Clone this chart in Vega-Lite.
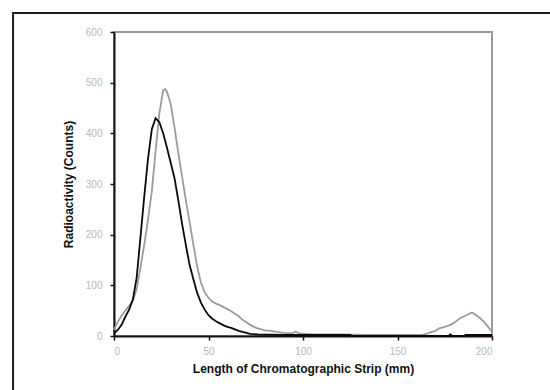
{
  "$schema": "https://vega.github.io/schema/vega-lite/v6.json",
  "autosize": {"type": "none"},
  "width": 378,
  "height": 304,
  "padding": {"left": 114, "top": 32, "right": 58, "bottom": 54},
  "background": "white",
  "config": {
    "view": {"stroke": "#9a9a9a", "strokeWidth": 2},
    "font": "Liberation Sans"
  },
  "datasets": {
    "frame": [{"x1": -53.4, "x2": 245, "y1": 637.5, "y2": -150}],
    "curves": [
      {"series": "B", "mm": 0, "counts": 12},
      {"series": "B", "mm": 2, "counts": 28},
      {"series": "B", "mm": 4, "counts": 40},
      {"series": "B", "mm": 6, "counts": 50},
      {"series": "B", "mm": 8, "counts": 60},
      {"series": "B", "mm": 10, "counts": 70},
      {"series": "B", "mm": 12, "counts": 92},
      {"series": "B", "mm": 14, "counts": 135},
      {"series": "B", "mm": 16, "counts": 180},
      {"series": "B", "mm": 18, "counts": 230},
      {"series": "B", "mm": 20, "counts": 285},
      {"series": "B", "mm": 22, "counts": 365},
      {"series": "B", "mm": 24, "counts": 440},
      {"series": "B", "mm": 26, "counts": 485},
      {"series": "B", "mm": 27, "counts": 487},
      {"series": "B", "mm": 28, "counts": 482},
      {"series": "B", "mm": 30, "counts": 458},
      {"series": "B", "mm": 32, "counts": 412},
      {"series": "B", "mm": 34, "counts": 362},
      {"series": "B", "mm": 36, "counts": 315},
      {"series": "B", "mm": 38, "counts": 268},
      {"series": "B", "mm": 40, "counts": 225},
      {"series": "B", "mm": 42, "counts": 180},
      {"series": "B", "mm": 44, "counts": 137},
      {"series": "B", "mm": 46, "counts": 105},
      {"series": "B", "mm": 48, "counts": 86},
      {"series": "B", "mm": 50, "counts": 75},
      {"series": "B", "mm": 52, "counts": 68},
      {"series": "B", "mm": 54, "counts": 64},
      {"series": "B", "mm": 56, "counts": 61},
      {"series": "B", "mm": 58, "counts": 57},
      {"series": "B", "mm": 60, "counts": 53},
      {"series": "B", "mm": 62, "counts": 49},
      {"series": "B", "mm": 64, "counts": 44},
      {"series": "B", "mm": 66, "counts": 39},
      {"series": "B", "mm": 68, "counts": 32},
      {"series": "B", "mm": 70, "counts": 27},
      {"series": "B", "mm": 72, "counts": 22},
      {"series": "B", "mm": 74, "counts": 18},
      {"series": "B", "mm": 76, "counts": 15},
      {"series": "B", "mm": 78, "counts": 13},
      {"series": "B", "mm": 80, "counts": 11},
      {"series": "B", "mm": 83, "counts": 10},
      {"series": "B", "mm": 86, "counts": 8},
      {"series": "B", "mm": 90, "counts": 6},
      {"series": "B", "mm": 94, "counts": 5},
      {"series": "B", "mm": 96, "counts": 9},
      {"series": "B", "mm": 98, "counts": 5},
      {"series": "B", "mm": 105, "counts": 3},
      {"series": "B", "mm": 120, "counts": 3},
      {"series": "B", "mm": 135, "counts": 2},
      {"series": "B", "mm": 150, "counts": 2},
      {"series": "B", "mm": 163, "counts": 2},
      {"series": "B", "mm": 166, "counts": 5},
      {"series": "B", "mm": 168, "counts": 8},
      {"series": "B", "mm": 170, "counts": 10},
      {"series": "B", "mm": 172, "counts": 15},
      {"series": "B", "mm": 175, "counts": 18},
      {"series": "B", "mm": 178, "counts": 22},
      {"series": "B", "mm": 180, "counts": 26},
      {"series": "B", "mm": 183, "counts": 35},
      {"series": "B", "mm": 186, "counts": 40},
      {"series": "B", "mm": 189, "counts": 46},
      {"series": "B", "mm": 190, "counts": 45},
      {"series": "B", "mm": 192, "counts": 40},
      {"series": "B", "mm": 194, "counts": 34},
      {"series": "B", "mm": 196, "counts": 27},
      {"series": "B", "mm": 198, "counts": 18},
      {"series": "B", "mm": 200, "counts": 8},
      {"series": "A", "mm": 0, "counts": 5},
      {"series": "A", "mm": 2, "counts": 12},
      {"series": "A", "mm": 4, "counts": 22},
      {"series": "A", "mm": 6, "counts": 38},
      {"series": "A", "mm": 8, "counts": 52},
      {"series": "A", "mm": 10, "counts": 72},
      {"series": "A", "mm": 12, "counts": 115},
      {"series": "A", "mm": 14, "counts": 195},
      {"series": "A", "mm": 16, "counts": 275},
      {"series": "A", "mm": 18, "counts": 350},
      {"series": "A", "mm": 20, "counts": 408},
      {"series": "A", "mm": 22, "counts": 430},
      {"series": "A", "mm": 24, "counts": 422},
      {"series": "A", "mm": 26, "counts": 400},
      {"series": "A", "mm": 28, "counts": 372},
      {"series": "A", "mm": 30, "counts": 342},
      {"series": "A", "mm": 32, "counts": 312},
      {"series": "A", "mm": 34, "counts": 268},
      {"series": "A", "mm": 36, "counts": 222},
      {"series": "A", "mm": 38, "counts": 180},
      {"series": "A", "mm": 40, "counts": 140},
      {"series": "A", "mm": 42, "counts": 112},
      {"series": "A", "mm": 44, "counts": 85},
      {"series": "A", "mm": 46, "counts": 66},
      {"series": "A", "mm": 48, "counts": 52},
      {"series": "A", "mm": 50, "counts": 41},
      {"series": "A", "mm": 52, "counts": 34},
      {"series": "A", "mm": 54, "counts": 29},
      {"series": "A", "mm": 56, "counts": 25},
      {"series": "A", "mm": 58, "counts": 21},
      {"series": "A", "mm": 60, "counts": 18},
      {"series": "A", "mm": 62, "counts": 16},
      {"series": "A", "mm": 64, "counts": 13},
      {"series": "A", "mm": 66, "counts": 10},
      {"series": "A", "mm": 68, "counts": 8},
      {"series": "A", "mm": 70, "counts": 6},
      {"series": "A", "mm": 72, "counts": 4},
      {"series": "A", "mm": 76, "counts": 3},
      {"series": "A", "mm": 90, "counts": 2},
      {"series": "A", "mm": 110, "counts": 2},
      {"series": "A", "mm": 125, "counts": 2},
      {"series": "A", "mm": 126, "counts": 0},
      {"series": "A", "mm": 177, "counts": 0},
      {"series": "A", "mm": 178, "counts": 3},
      {"series": "A", "mm": 179, "counts": 0},
      {"series": "A", "mm": 185, "counts": 0},
      {"series": "A", "mm": 186, "counts": 2},
      {"series": "A", "mm": 200, "counts": 2}
    ]
  },
  "layer": [
    {
      "data": {"name": "frame"},
      "mark": {"type": "rect", "fill": null, "stroke": "#1e1e1e", "strokeWidth": 2, "clip": false},
      "encoding": {
        "x": {"field": "x1", "type": "quantitative"},
        "x2": {"field": "x2"},
        "y": {"field": "y1", "type": "quantitative"},
        "y2": {"field": "y2"}
      }
    },
    {
      "data": {"name": "curves"},
      "mark": {"type": "line", "strokeWidth": 1.8, "interpolate": "linear"},
      "encoding": {
        "x": {
          "field": "mm", "type": "quantitative",
          "scale": {"domain": [0, 200], "nice": false, "zero": false},
          "axis": {
            "title": "Length of Chromatographic Strip (mm)",
            "values": [0, 50, 100, 150, 200],
            "grid": false,
            "domainColor": "#111", "domainWidth": 2,
            "tickColor": "#111", "tickWidth": 1.5, "tickSize": 4,
            "labelColor": "#b8b8b8", "labelFontSize": 10, "labelPadding": 6,
            "titleColor": "#111", "titleFontSize": 12, "titleFontWeight": "bold", "titlePadding": 7
          }
        },
        "y": {
          "field": "counts", "type": "quantitative",
          "scale": {"domain": [0, 600], "nice": false},
          "axis": {
            "title": "Radioactivity (Counts)",
            "values": [0, 100, 200, 300, 400, 500, 600],
            "grid": false,
            "domainColor": "#111", "domainWidth": 2,
            "tickColor": "#111", "tickWidth": 1.5, "tickSize": 4,
            "labelColor": "#b8b8b8", "labelFontSize": 10, "labelPadding": 8,
            "titleColor": "#111", "titleFontSize": 12, "titleFontWeight": "bold", "titlePadding": 10
          }
        },
        "color": {
          "field": "series", "type": "nominal",
          "scale": {"domain": ["B", "A"], "range": ["#9c9c9c", "#0a0a0a"]},
          "legend": null
        },
        "order": {"field": "mm", "type": "quantitative"}
      }
    }
  ]
}
